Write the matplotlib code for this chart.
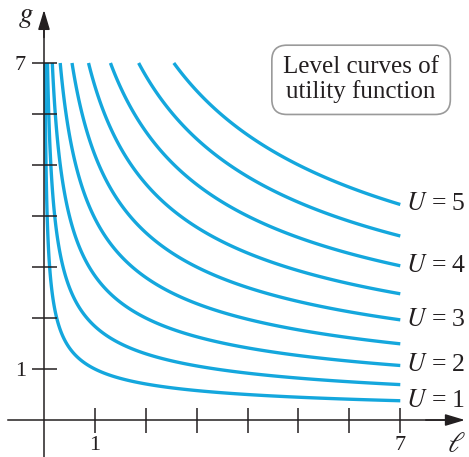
import numpy as np
import matplotlib.pyplot as plt

plt.rcParams['font.family'] = ['Liberation Serif', 'DejaVu Serif']
plt.rcParams['mathtext.fontset'] = 'stix'

# utility U = l^alpha * g^beta, level curves drawn at these values
alpha = 1 / 3
beta = 2 / 3
levels = [1, 1.5, 2, 2.5, 3, 3.5, 4, 4.5, 5]
labelled = [1, 2, 3, 4, 5]
ticks = [1, 2, 3, 4, 5, 6, 7]
tick_labels = ['1', '', '', '', '', '', '7']
l_max = 7
g_max = 7

blue = '#14a7dd'
ink = '#231f20'

fig = plt.figure(figsize=(4.69, 4.57), dpi=100)
ax = fig.add_axes([0, 0, 1, 1])
ax.set_xlim(-0.864, 8.35)
ax.set_ylim(-0.725, 8.235)

# grid for the level curves (geometric so the steep part near l=0 is smooth)
l = np.geomspace(1e-3, l_max, 1200)
g = np.geomspace(1e-2, g_max, 1200)
L, G = np.meshgrid(l, g)
U = L**alpha * G**beta
cs = ax.contour(L, G, U, levels=levels, colors=blue, linewidths=2.4, zorder=1)

# labels at the right end of the integer curves
for lev, path in zip(cs.levels, cs.get_paths()):
    if lev in labelled:
        v = path.vertices
        end = v[v[:, 0].argmax()]
        ax.text(end[0] + 0.12, end[1], f'$U$ = {lev:g}', fontsize=18.5,
                va='center', ha='left', color=ink)

# axes through the origin
for s in ['top', 'right']:
    ax.spines[s].set_visible(False)
ax.spines['left'].set_position(('data', 0))
ax.spines['bottom'].set_position(('data', 0))
ax.spines['bottom'].set_bounds(-0.7, 8.0)
ax.spines['left'].set_bounds(-0.725, 7.8)
for s in ['left', 'bottom']:
    ax.spines[s].set_color(ink)
    ax.spines[s].set_linewidth(1.1)
    ax.spines[s].set_zorder(3)

ax.set_xticks(ticks, tick_labels)
ax.set_yticks(ticks, tick_labels)
ax.tick_params(direction='inout', length=18, width=1.1, color=ink,
               labelsize=16, labelcolor=ink)
ax.tick_params(axis='x', pad=2.5)
ax.tick_params(axis='y', pad=4)

arrow = dict(arrowstyle='-|>,head_length=1.2,head_width=0.36', color=ink,
             lw=1.1, shrinkA=0, shrinkB=0, mutation_scale=10)
ax.annotate('', xy=(8.27, 0), xytext=(7.5, 0), arrowprops=arrow)
ax.annotate('', xy=(0, 8.04), xytext=(0, 7.5), arrowprops=arrow)

ax.text(-0.35, 7.9, '$g$', fontsize=21, ha='center', va='center', color=ink)
ax.text(8.11, -0.49, r'$\ell$', fontsize=21, ha='center', va='center', color=ink)

ax.text(6.23, 6.67, 'Level curves of\nutility function', fontsize=18,
        ha='center', va='center', color=ink, linespacing=1.1,
        bbox=dict(boxstyle='round,pad=0.45,rounding_size=0.6', fc='white',
                  ec='#9a9a9a', lw=1.2))

fig.savefig('out.png', dpi=100)
